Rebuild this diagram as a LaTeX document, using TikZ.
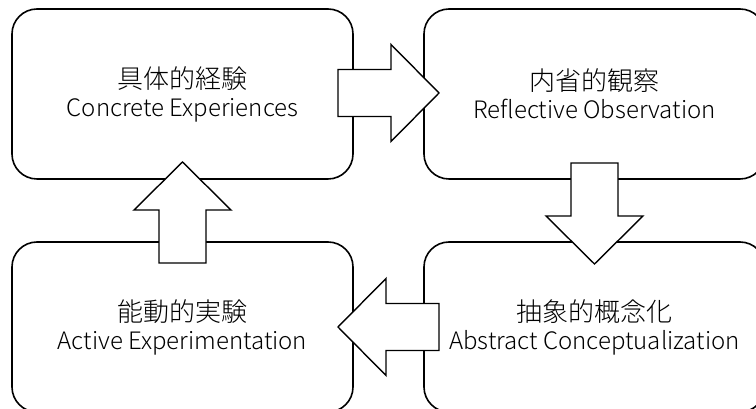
\documentclass[tikz,border=0pt]{standalone}
\usepackage{fontspec}
\IfFontExistsTF{Noto Sans CJK JP Light}
  {\setmainfont{Noto Sans CJK JP Light}}
  {\setmainfont{Noto Sans CJK JP}}
\usetikzlibrary{calc}
\tikzset{
  stage/.style={draw=black, line width=1.6pt, rounded corners=25pt, fill=white,
    minimum width=341pt, minimum height=170pt, align=center, inner sep=0pt},
  blockarrow/.style={draw=black, line width=1.4pt, fill=white, line join=miter},
  jp/.style={font=\fontsize{26}{28}\selectfont},
}
% English subtitle under each Japanese heading
\newcommand{\entext}[1]{{\fontsize{24}{31}\selectfont #1}}
\begin{document}
\begin{tikzpicture}[x=1pt,y=1pt]
  \useasboundingbox (0,0) rectangle (756,409);
  % four stages of the learning cycle
  \node[stage, jp] (ce) at (182.5,315) {具体的経験\\\entext{Concrete Experiences}};
  \node[stage, jp] (ro) at (594.5,315) {内省的観察\\\entext{Reflective Observation}};
  \node[stage, jp] (ac) at (594.5,82)  {抽象的概念化\\\entext{Abstract Conceptualization}};
  \node[stage, jp] (ae) at (182.5,82)  {能動的実験\\\entext{Active Experimentation}};
  % block arrows between the stages, drawn pointing right then rotated
  \foreach \a/\b/\ang/\dy in {ce/ro/0/1, ro/ac/-90/-3, ac/ae/180/0, ae/ce/90/-2}{
    \begin{scope}[shift={($($(\a)!0.5!(\b)$)+(0,\dy)$)}, rotate=\ang]
      \draw[blockarrow] (-50.5,23.5) -- (2.5,23.5) -- (2.5,48.5) -- (50.5,0)
        -- (2.5,-48.5) -- (2.5,-23.5) -- (-50.5,-23.5) -- cycle;
    \end{scope}
  }
\end{tikzpicture}
\end{document}
